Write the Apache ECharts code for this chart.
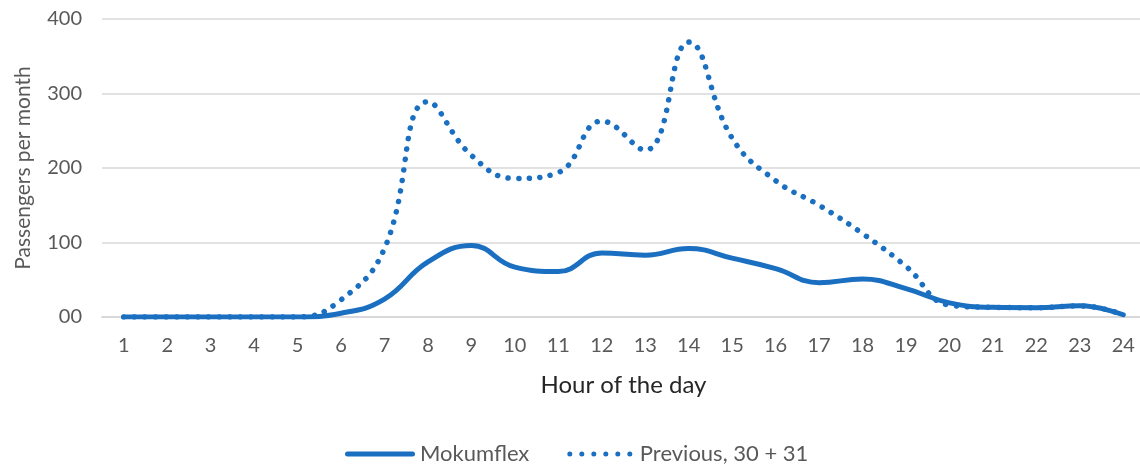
<!DOCTYPE html>
<html>
<head>
<meta charset="utf-8">
<script src="https://cdn.jsdelivr.net/npm/echarts@6/dist/echarts.min.js"></script>
<style>
  html, body { margin: 0; padding: 0; background: #fff; }
  #chart { width: 1140px; height: 470px; }
</style>
</head>
<body>
<div id="chart"></div>
<script>
var hours = ['1', '2', '3', '4', '5', '6', '7', '8', '9', '10', '11', '12',
             '13', '14', '15', '16', '17', '18', '19', '20', '21', '22', '23', '24'];
var mokumflex = [0, 0, 0, 0, 0, 5, 24, 74, 96, 67, 61, 86,
                 83, 92, 79, 65, 46, 51, 38, 19, 13, 12.5, 15, 3];
var previous = [0, 0, 0, 0, 0, 23, 92, 289, 217, 186, 194, 263,
                224, 369, 240, 183, 150, 112, 68, 16, 13, 12.5, 15, 3];
var yTicks = [0, 100, 200, 300, 400];

var blue = '#1b6fc1';
var font = 'Lato';

// legend keys: a thick rounded bar and a row of six dots
var solidIcon = 'path://M2.5,0 H67.5 A2.5,2.5 0 0 1 67.5,5 H2.5 A2.5,2.5 0 0 1 2.5,0 Z';
var dotIcon = 'path://';
for (var i = 0; i < 6; i++) {
    var cx = 2.5 + i * 12;
    dotIcon += 'M' + (cx - 2.5) + ',2.5 A2.5,2.5 0 1 0 ' + (cx + 2.5) + ',2.5 A2.5,2.5 0 1 0 ' + (cx - 2.5) + ',2.5 Z ';
}

var option = {
    animation: false,
    grid: {
        left: 102,
        top: 19,
        width: 1043,
        height: 298,
        outerBoundsMode: 'none',
        containLabel: false
    },
    legend: {
        top: 443,
        left: 345,
        padding: 0,
        itemGap: 38,
        textStyle: { fontFamily: font, fontSize: 22, color: '#595959' },
        data: [
            { name: 'Mokumflex', icon: solidIcon },
            { name: 'Previous, 30 + 31', icon: dotIcon }
        ],
        itemWidth: 70,
        itemHeight: 5,
        itemStyle: { color: blue, borderWidth: 0 }
    },
    xAxis: {
        type: 'category',
        boundaryGap: true,
        data: hours,
        name: 'Hour of the day',
        nameLocation: 'middle',
        nameGap: 56,
        nameTextStyle: { fontFamily: font, fontSize: 24, color: '#262626' },
        axisTick: { show: false },
        axisLine: { lineStyle: { color: '#d9d9d9', width: 2 } },
        axisLabel: { fontFamily: font, fontSize: 20, color: '#595959', margin: 19 }
    },
    yAxis: {
        type: 'value',
        min: yTicks[0],
        max: yTicks[yTicks.length - 1],
        interval: 100,
        name: 'Passengers per month',
        nameLocation: 'middle',
        nameRotate: 90,
        nameGap: 68,
        nameTextStyle: { fontFamily: font, fontSize: 21, color: '#595959' },
        axisLine: { show: false },
        axisTick: { show: false },
        splitLine: { lineStyle: { color: '#d9d9d9', width: 1.5 } },
        axisLabel: {
            fontFamily: font, fontSize: 20, color: '#595959', margin: 20,
            formatter: function (v) { return v === 0 ? '00' : String(v); }
        }
    },
    series: [
        {
            name: 'Mokumflex',
            type: 'line',
            data: mokumflex,
            smooth: 0.45,
            symbol: 'none',
            z: 3,
            lineStyle: { color: blue, width: 5, cap: 'round' },
            itemStyle: { color: blue }
        },
        {
            name: 'Previous, 30 + 31',
            type: 'line',
            data: previous,
            smooth: 0.45,
            symbol: 'none',
            z: 2,
            lineStyle: { color: blue, width: 5.5, type: [0.1, 10.5], cap: 'round' },
            itemStyle: { color: blue }
        }
    ]
};

var myChart = echarts.init(document.getElementById('chart'));
myChart.setOption(option);
</script>
</body>
</html>
